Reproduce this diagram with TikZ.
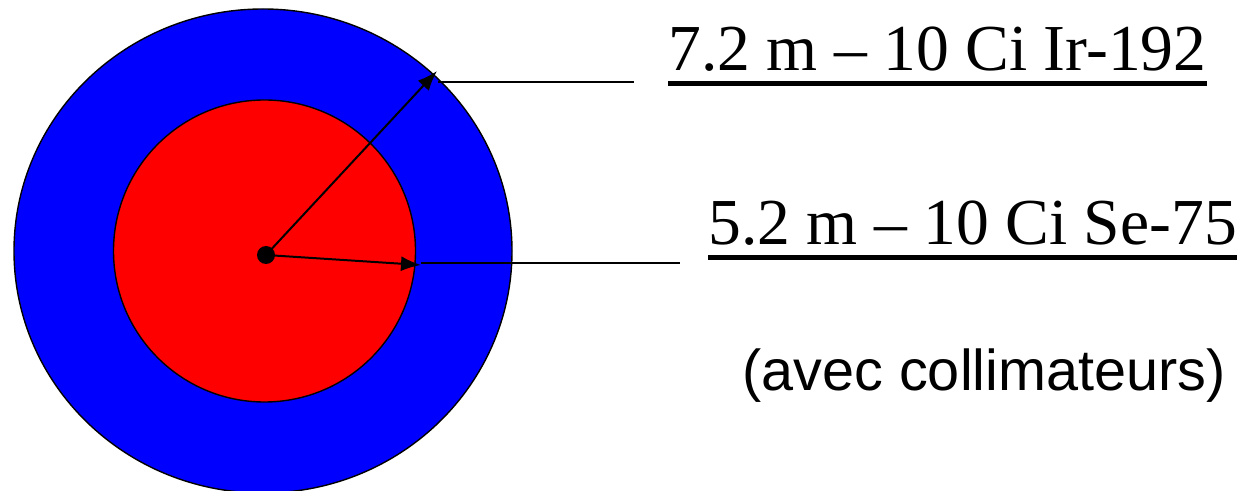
\documentclass[tikz,border=0pt]{standalone}
\usepackage{fontspec}
\setmainfont{Liberation Serif}
\setsansfont{Liberation Sans}
\usepackage{tikz}
\usetikzlibrary{arrows.meta, positioning}
\tikzset{
  >=latex,
  zone/.style={draw=black, line width=0.7pt},
  source/.style={circle, fill=black, inner sep=0, minimum size=9pt},
  radius arrow/.style={-{Latex[length=10pt,width=7.5pt]}, line width=1pt},
  leader/.style={line width=0.7pt},
  dist label/.style={anchor=base west, inner sep=0, font=\fontsize{32.8}{40}\selectfont},
  note label/.style={anchor=base west, inner sep=0, font=\sffamily\fontsize{28.8}{35}\selectfont},
  underline/.style={line width=2.2pt}
}
\begin{document}
\begin{tikzpicture}[x=0.5pt, y=-0.5pt]
  \useasboundingbox (0,0) rectangle (1247,491);

  % Zones
  \fill[blue] (263,251) ellipse (249 and 242);
  \draw[zone] (263,251) ellipse (249 and 242);
  \fill[red] (264.5,251) circle (151);
  \draw[zone] (264.5,251) circle (151);

  % Source
  \node[source] (src) at (266,255) {};

  % Radii
  \coordinate (tipIr) at (437,71);
  \coordinate (tipSe) at (421,265);
  \draw[radius arrow] (src.center) -- (tipIr);
  \draw[radius arrow] (src.center) -- (tipSe);

  % Leaders
  \coordinate (startIr) at (438,82);
  \coordinate (endIr) at (634,82);
  \coordinate (startSe) at (421,263);
  \coordinate (endSe) at (680,263);
  \draw[leader] (startIr) -- (endIr);
  \draw[leader] (startSe) -- (endSe);

  % Labels
  \node[dist label] (labIr) at (668,71) {7.2 m – 10 Ci Ir-192};
  \node[dist label] (labSe) at (708,245) {5.2 m – 10 Ci Se-75};
  \node[note label] (labNote) at (742,391) {(avec collimateurs)};
  \draw[underline] ([yshift=-6.2pt]labIr.base west) -- ([yshift=-6.2pt]labIr.base east);
  \draw[underline] ([yshift=-6.2pt]labSe.base west) -- ([yshift=-6.2pt]labSe.base east);

\end{tikzpicture}
\end{document}
